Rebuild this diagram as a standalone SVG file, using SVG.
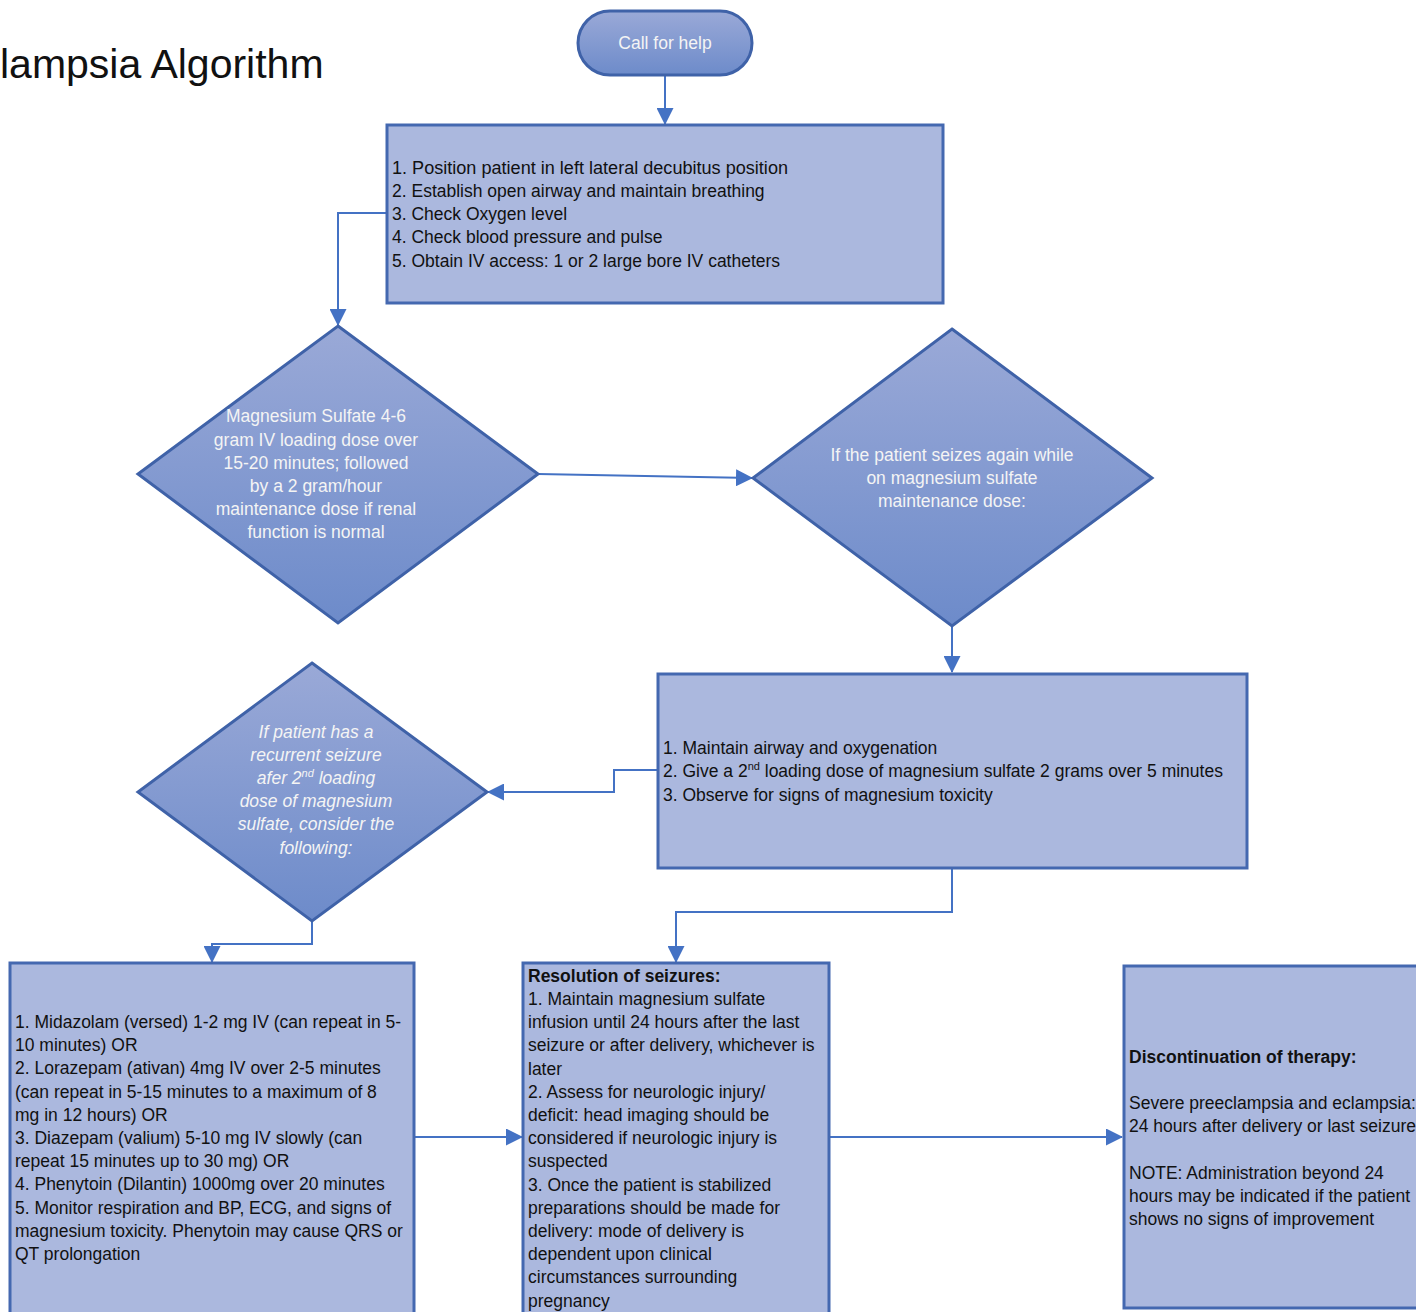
<svg xmlns="http://www.w3.org/2000/svg" width="1416" height="1312" viewBox="0 0 1416 1312">
<style>
.box{fill:#abb8de;stroke:#4468b0;stroke-width:3}
.dia{fill:url(#g);stroke:#3f62a8;stroke-width:3}
.t{font-family:"Liberation Sans",Arial,sans-serif;font-size:17.5px;fill:#111}
.w{font-family:"Liberation Sans",Arial,sans-serif;font-size:17.5px;fill:#f4f4f4;text-anchor:middle}
.b{font-weight:bold}
.c{fill:none;stroke:#4472c4;stroke-width:2;marker-end:url(#a)}
</style>
<defs>
<linearGradient id="g" x1="0" y1="0" x2="0" y2="1">
<stop offset="0" stop-color="#9aa9d7"/>
<stop offset="1" stop-color="#6d8bca"/>
</linearGradient>
<marker id="a" markerUnits="userSpaceOnUse" markerWidth="17" markerHeight="17" refX="16" refY="8.5" orient="auto">
<path d="M0,0 L17,8.5 L0,17 Z" fill="#4472c4"/>
</marker>
</defs>
<rect width="1416" height="1312" fill="#ffffff"/>
<text x="0" y="78" font-family="Liberation Sans,Arial,sans-serif" font-size="41" fill="#111">lampsia Algorithm</text>

<g id="connectors">
<path class="c" d="M665,76 V124"/>
<path class="c" d="M386,213 H338 V325"/>
<path class="c" d="M538,474 L752,478"/>
<path class="c" d="M952,626 V672"/>
<path class="c" d="M657,770 H614 V792 H488"/>
<path class="c" d="M312,922 V944 H212 V962"/>
<path class="c" d="M952,868 V912 H676 V962"/>
<path class="c" d="M414,1137 H522"/>
<path class="c" d="M829,1137 H1122"/>
</g>

<g id="call-for-help">
<rect x="578" y="11" width="174" height="64" rx="32" class="dia"/>
<text class="w" x="665" y="49">Call for help</text>
</g>

<g id="initial-steps">
<rect class="box" x="387" y="125" width="556" height="178"/>
<text class="t" x="392" y="174" textLength="396" lengthAdjust="spacingAndGlyphs">1. Position patient in left lateral decubitus position</text>
<text class="t" x="392" y="197">2. Establish open airway and maintain breathing</text>
<text class="t" x="392" y="220">3. Check Oxygen level</text>
<text class="t" x="392" y="243">4. Check blood pressure and pulse</text>
<text class="t" x="392" y="267">5. Obtain IV access: 1 or 2 large bore IV catheters</text>
</g>

<g id="magnesium-loading">
<polygon class="dia" points="338,326 538,474 338,623 138,474"/>
<text class="w" x="316" y="422">Magnesium Sulfate 4-6</text>
<text class="w" x="316" y="446">gram IV loading dose over</text>
<text class="w" x="316" y="469">15-20 minutes; followed</text>
<text class="w" x="316" y="492">by a 2 gram/hour</text>
<text class="w" x="316" y="515">maintenance dose if renal</text>
<text class="w" x="316" y="538">function is normal</text>
</g>

<g id="seizes-again">
<polygon class="dia" points="952,329 1152,478 952,626 753,478"/>
<text class="w" x="952" y="461">If the patient seizes again while</text>
<text class="w" x="952" y="484">on magnesium sulfate</text>
<text class="w" x="952" y="507">maintenance dose:</text>
</g>

<g id="second-loading">
<rect class="box" x="658" y="674" width="589" height="194"/>
<text class="t" x="663" y="754">1. Maintain airway and oxygenation</text>
<text class="t" x="663" y="777">2. Give a 2<tspan font-size="11" dy="-7">nd</tspan><tspan dy="7"> loading dose of magnesium sulfate 2 grams over 5 minutes</tspan></text>
<text class="t" x="663" y="801">3. Observe for signs of magnesium toxicity</text>
</g>

<g id="recurrent-seizure">
<polygon class="dia" points="312,663 487,792 312,921 138,792"/>
<g font-style="italic">
<text class="w" x="316" y="738">If patient has a</text>
<text class="w" x="316" y="761">recurrent seizure</text>
<text class="w" x="316" y="784">afer 2<tspan font-size="11" dy="-7">nd</tspan><tspan dy="7"> loading</tspan></text>
<text class="w" x="316" y="807">dose of magnesium</text>
<text class="w" x="316" y="830">sulfate, consider the</text>
<text class="w" x="316" y="854">following:</text>
</g>
</g>

<g id="alternative-drugs">
<rect class="box" x="10" y="963" width="404" height="360"/>
<text class="t" x="15" y="1028">1. Midazolam (versed) 1-2 mg IV (can repeat in 5-</text>
<text class="t" x="15" y="1051">10 minutes) OR</text>
<text class="t" x="15" y="1074">2. Lorazepam (ativan) 4mg IV over 2-5 minutes</text>
<text class="t" x="15" y="1098">(can repeat in 5-15 minutes to a maximum of 8</text>
<text class="t" x="15" y="1121">mg in 12 hours) OR</text>
<text class="t" x="15" y="1144">3. Diazepam (valium) 5-10 mg IV slowly (can</text>
<text class="t" x="15" y="1167">repeat 15 minutes up to 30 mg) OR</text>
<text class="t" x="15" y="1190">4. Phenytoin (Dilantin) 1000mg over 20 minutes</text>
<text class="t" x="15" y="1214">5. Monitor respiration and BP, ECG, and signs of</text>
<text class="t" x="15" y="1237">magnesium toxicity. Phenytoin may cause QRS or</text>
<text class="t" x="15" y="1260">QT prolongation</text>
</g>

<g id="resolution">
<rect class="box" x="523" y="963" width="306" height="360"/>
<text class="t b" x="528" y="982">Resolution of seizures:</text>
<text class="t" x="528" y="1005">1. Maintain magnesium sulfate</text>
<text class="t" x="528" y="1028">infusion until 24 hours after the last</text>
<text class="t" x="528" y="1051">seizure or after delivery, whichever is</text>
<text class="t" x="528" y="1075">later</text>
<text class="t" x="528" y="1098">2. Assess for neurologic injury/</text>
<text class="t" x="528" y="1121">deficit: head imaging should be</text>
<text class="t" x="528" y="1144">considered if neurologic injury is</text>
<text class="t" x="528" y="1167">suspected</text>
<text class="t" x="528" y="1191">3. Once the patient is stabilized</text>
<text class="t" x="528" y="1214">preparations should be made for</text>
<text class="t" x="528" y="1237">delivery: mode of delivery is</text>
<text class="t" x="528" y="1260">dependent upon clinical</text>
<text class="t" x="528" y="1283">circumstances surrounding</text>
<text class="t" x="528" y="1307">pregnancy</text>
</g>

<g id="discontinuation">
<rect class="box" x="1124" y="966" width="310" height="342"/>
<text class="t b" x="1129" y="1063">Discontinuation of therapy:</text>
<text class="t" x="1129" y="1109">Severe preeclampsia and eclampsia:</text>
<text class="t" x="1129" y="1132">24 hours after delivery or last seizure</text>
<text class="t" x="1129" y="1179">NOTE: Administration beyond 24</text>
<text class="t" x="1129" y="1202">hours may be indicated if the patient</text>
<text class="t" x="1129" y="1225">shows no signs of improvement</text>
</g>
</svg>
